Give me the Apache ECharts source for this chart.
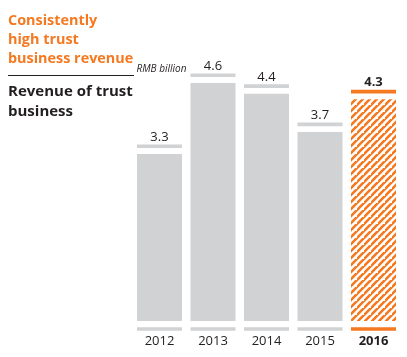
<!DOCTYPE html>
<html><head><meta charset="utf-8">
<script src="https://cdn.jsdelivr.net/npm/echarts@6/dist/echarts.min.js"></script>
<style>html,body{margin:0;padding:0;background:#fff}#c{width:407px;height:357px}</style>
</head><body><div id="c"></div>
<script>
const categories = ['2012', '2013', '2014', '2015', '2016'];
const revenue = [3.3, 4.6, 4.4, 3.7, 4.3];
const highlightIndex = 4;
const titleLines = ['Consistently', 'high trust', 'business revenue'];
const subtitleLines = ['Revenue of trust', 'business'];
const unitText = 'RMB billion';

const GRAY = '#d1d2d4';
const ORANGE = '#f47920';
const DARK = '#231f20';
const FONT = '"Open Sans", "Noto Sans", sans-serif';
const BAR_W = 45;

// diagonal hatch pattern
const tile = document.createElement('canvas');
const S = 7;
tile.width = S; tile.height = S;
const tc = tile.getContext('2d');
tc.fillStyle = '#fff'; tc.fillRect(0, 0, S, S);
tc.strokeStyle = ORANGE; tc.lineWidth = 2.6;
tc.beginPath();
tc.moveTo(-1, S + 1); tc.lineTo(S + 1, -1);
tc.moveTo(-S - 1, S + 1); tc.lineTo(1, -1);
tc.moveTo(S - 1, 2 * S + 1); tc.lineTo(2 * S + 1, S - 1);
tc.stroke();

const chart = echarts.init(document.getElementById('c'), null, {renderer: 'canvas'});
const Y_MIN = 0.24, Y_MAX = 4.84;

const graphics = [];
titleLines.forEach((t, i) => graphics.push({
  type: 'text', style: {text: t, x: 8, y: 21.4 + i * 18.6, fill: ORANGE,
  font: 'bold 14.4px ' + FONT, verticalAlign: 'middle'}, silent: true
}));
subtitleLines.forEach((t, i) => graphics.push({
  type: 'text', style: {text: t, x: 8, y: 91.6 + i * 20.2, fill: DARK,
  font: 'bold 15px ' + FONT, verticalAlign: 'middle'}, silent: true
}));
graphics.push({type: 'line', shape: {x1: 8, y1: 75.5, x2: 134, y2: 75.5},
  style: {stroke: DARK, lineWidth: 1}, silent: true});
graphics.push({type: 'text', style: {text: unitText, x: 136.5, y: 69.5, fill: DARK,
  font: 'italic 10px ' + FONT, verticalAlign: 'middle'}, silent: true});

chart.setOption({
  animation: false,
  grid: {left: 132.75, right: 6.75, top: 69.8, bottom: 36},
  xAxis: {
    type: 'category', data: categories,
    axisLine: {show: false}, axisTick: {show: false},
    axisLabel: {
      interval: 0, margin: 14, fontSize: 13, color: DARK, fontFamily: FONT,
      formatter: (v, i) => i === highlightIndex ? '{b|' + v + '}' : v,
      rich: {b: {fontWeight: 'bold', fontSize: 13, color: DARK, fontFamily: FONT}}
    }
  },
  yAxis: {type: 'value', min: Y_MIN, max: Y_MAX, show: false, splitLine: {show: false}},
  series: [
    {
      type: 'bar', barWidth: BAR_W, silent: true,
      data: revenue.map((v, i) => ({value: v,
        itemStyle: {color: i === highlightIndex ? {image: tile, repeat: 'repeat'} : GRAY}}))
    },
    {
      type: 'custom', silent: true,
      data: revenue.map((v, i) => [i, v]),
      renderItem: (params, api) => {
        const i = api.value(0), v = api.value(1);
        const top = api.coord([i, v]);
        const base = api.coord([i, Y_MIN]);
        const hl = i === highlightIndex;
        const col = hl ? ORANGE : GRAY;
        const x = top[0] - BAR_W / 2;
        const capY = top[1] - 9.5;
        return {type: 'group', children: [
          {type: 'rect', shape: {x: x, y: capY, width: BAR_W, height: 3.6}, style: {fill: col}},
          {type: 'rect', shape: {x: x, y: base[1] + 6.2, width: BAR_W, height: 3.6}, style: {fill: col}},
          {type: 'text', style: {text: v.toFixed(1), x: top[0], y: capY - 7,
            align: 'center', verticalAlign: 'middle', fill: DARK,
            font: (hl ? 'bold ' : '') + '13px ' + FONT}}
        ]};
      }
    }
  ],
  graphic: graphics
});
</script></body></html>
